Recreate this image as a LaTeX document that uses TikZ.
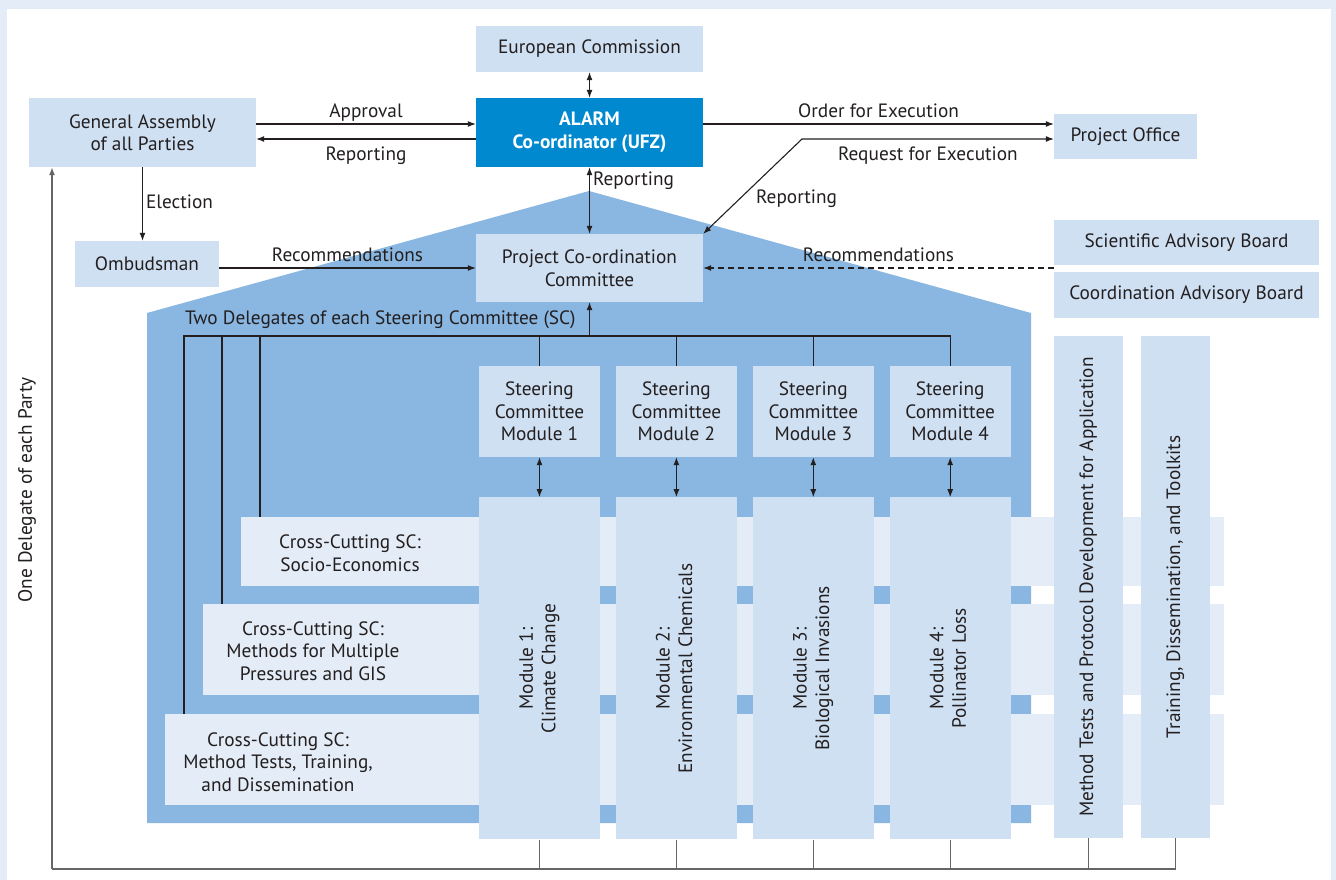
\documentclass[tikz,border=0pt]{standalone}
\usepackage{fontspec}
\setmainfont{PT Sans}
\usetikzlibrary{positioning,arrows.meta}

\definecolor{framebg}{HTML}{E4EDF7}
\definecolor{boxblue}{HTML}{CFE0F2}
\definecolor{houseblue}{HTML}{89B7E1}
\definecolor{alarmblue}{HTML}{0089CF}
\definecolor{ink}{HTML}{231F20}
\definecolor{wiregray}{HTML}{666666}

\newcommand{\uptext}[1]{\rotatebox{90}{\begin{tabular}{@{}c@{}}#1\end{tabular}}}

\tikzset{
	txt/.style={text=ink, align=center, font=\fontsize{19.3}{22.5}\selectfont},
	box/.style={txt, fill=boxblue, inner sep=0pt},
	band/.style={fill=framebg, inner sep=0pt},
	lbl/.style={txt, inner sep=3pt, text height=13.5pt, text depth=4.5pt},
	conn/.style={draw=ink, line width=1.1pt},
	wire/.style={draw=wiregray, line width=1.4pt},
}

\begin{document}
\begin{tikzpicture}[x=1pt, y=-1pt, >={Latex[length=8pt,width=6pt]}]
	\useasboundingbox (0,0) rectangle (1336,880);
	\fill[framebg] (0,0) rectangle (1336,880);
	\fill[white] (7,9) rectangle (1331,880);
	
	% house
	\fill[houseblue] (147,313) -- (589,191) -- (1031,313) -- (1031,823) -- (147,823) -- cycle;
	
	% cross-cutting bands
	\node[band, minimum width=983pt, minimum height=69pt, anchor=north west] (cc1) at (241,517) {};
	\node[band, minimum width=1021pt, minimum height=91pt, anchor=north west] (cc2) at (203,604) {};
	\node[band, minimum width=1059pt, minimum height=91pt, anchor=north west] (cc3) at (165,714) {};
	\node[txt] (cc1 text) at (350,553) {Cross-Cutting SC:\\Socio-Economics};
	\node[txt] (cc2 text) at (313,651) {Cross-Cutting SC:\\Methods for Multiple\\Pressures and GIS};
	\node[txt] (cc3 text) at (278,762) {Cross-Cutting SC:\\Method Tests, Training,\\and Dissemination};
	
	% top
	\node[box, minimum width=227pt, minimum height=46pt] (ec) at (589.5,49) {European Commission};
	\node[box, fill=alarmblue, text=white, font=\fontsize{19.3}{22.5}\selectfont\bfseries, minimum width=227pt, minimum height=69pt] (alarm) at (589.5,132.5) {ALARM\\Co-ordinator (UFZ)};
	\node[box, minimum width=227pt, minimum height=69pt] (ga) at (142.5,132.5) {General Assembly\\of all Parties};
	\node[box, minimum width=144pt, minimum height=46pt] (omb) at (147,264) {Ombudsman};
	\node[box, minimum width=227pt, minimum height=68pt] (pcc) at (589.5,268) {Project Co-ordination\\Committee};
	\node[box, minimum width=143pt, minimum height=45pt] (po) at (1125.5,136.5) {Project Office};
	\node[box, minimum width=265pt, minimum height=45pt] (sab) at (1186.5,242.5) {Scientific Advisory Board};
	\node[box, minimum width=265pt, minimum height=46pt] (cab) at (1186.5,295) {Coordination Advisory Board};
	
	% steering committees and modules
	\node[box, minimum width=121pt, minimum height=91pt] (sc1) at (539.5,411.5) {Steering\\Committee\\Module 1};
	\node[box, minimum width=121pt, minimum height=91pt, right=15.5pt of sc1] (sc2) {Steering\\Committee\\Module 2};
	\node[box, minimum width=121pt, minimum height=91pt, right=15.5pt of sc2] (sc3) {Steering\\Committee\\Module 3};
	\node[box, minimum width=121pt, minimum height=91pt, right=15.5pt of sc3] (sc4) {Steering\\Committee\\Module 4};
	\node[box, minimum width=121pt, minimum height=342pt, below=40pt of sc1] (mod1) {\uptext{Module 1:\\Climate Change}};
	\node[box, minimum width=121pt, minimum height=342pt, below=40pt of sc2] (mod2) {\uptext{Module 2:\\Environmental Chemicals}};
	\node[box, minimum width=121pt, minimum height=342pt, below=40pt of sc3] (mod3) {\uptext{Module 3:\\Biological Invasions}};
	\node[box, minimum width=121pt, minimum height=342pt, below=40pt of sc4] (mod4) {\uptext{Module 4:\\Pollinator Loss}};
	\node[box, minimum width=69pt, minimum height=502pt] (methods) at (1088.5,587) {\uptext{Method Tests and Protocol Development for Application}};
	\node[box, minimum width=69pt, minimum height=502pt] (train) at (1175.5,587) {\uptext{Training, Dissemination, and Toolkits}};
	
	% connectors on top
	\draw[conn,->] (ga.east |- 0,124) -- node[lbl, above=-1.5pt] {Approval} (alarm.west |- 0,124);
	\draw[conn,->] (alarm.west |- 0,139) -- node[lbl, below=4pt] {Reporting} (ga.east |- 0,139);
	\draw[conn,<->] (ec) -- (alarm);
	\draw[conn,<->] (alarm) -- node[lbl, right, pos=0.2] {Reporting} (pcc);
	\draw[conn,->] (alarm.east |- 0,124) -- node[lbl, above=-1.5pt] {Order for Execution} (po.west |- 0,124);
	\coordinate (bend) at (802,139);
	\draw[conn,<->] (pcc.north east) -- node[lbl, below right] {Reporting} (bend) -- node[lbl, below=4pt] {Request for Execution} (po.west |- bend);
	\draw[conn,->] (ga.south) -- node[lbl, right] {Election} (ga.south |- omb.north);
	\draw[conn,->] (omb.east |- 0,268) -- node[lbl, above=-2pt] {Recommendations} (pcc.west |- 0,268);
	\draw[conn,dash pattern=on 6pt off 4pt,->] (sab.west |- 0,268) -- node[lbl, above=-2pt] {Recommendations} (pcc.east |- 0,268);
	
	% delegates
	\coordinate (bus) at (184,336);
	\coordinate (tap2) at (222,336);
	\coordinate (tap3) at (260,336);
	\node[txt, anchor=west, inner sep=0pt] (deleg) at (185,320) {Two Delegates of each Steering Committee (SC)};
	\draw[conn] (cc3.north -| bus) -- (bus) -- (bus -| sc4.north) -- (sc4.north);
	\draw[conn] (tap2) -- (tap2 |- cc2.north);
	\draw[conn] (tap3) -- (tap3 |- cc1.north);
	\foreach \i in {1,2,3}
		\draw[conn] (sc\i.north) -- (sc\i.north |- bus);
	\draw[conn,->] (pcc.south |- bus) -- (pcc.south);
	\foreach \i in {1,...,4}
		\draw[conn,<->] (sc\i) -- (mod\i);
	
	% one delegate of each party
	\coordinate (party) at (52,869);
	\draw[wire,->] (party) -- (party |- ga.south);
	\draw[wire] (party) -- (party -| train.south) -- (train.south);
	\foreach \n in {mod1,mod2,mod3,mod4,methods}
		\draw[wire] (\n.south) -- (\n.south |- party);
	\node[txt, rotate=90] (party text) at (27,490) {One Delegate of each Party};
\end{tikzpicture}
\end{document}
